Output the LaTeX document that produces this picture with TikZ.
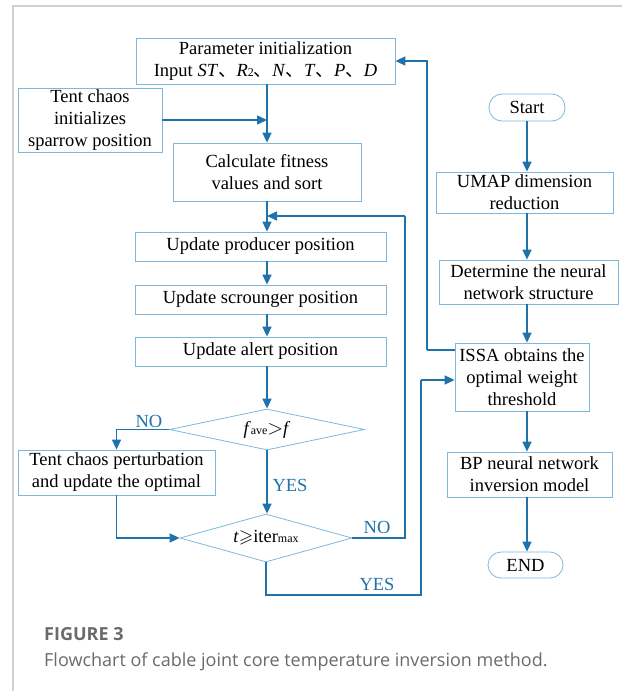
\documentclass[tikz,border=0pt]{standalone}
\usepackage{amssymb}
\usepackage{fontspec}
\setmainfont{Liberation Serif}
\newfontfamily\cjk{Noto Sans CJK SC}
\newfontfamily\capfont{Open Sans}
\usetikzlibrary{arrows.meta,shapes.geometric}
\definecolor{boxc}{HTML}{7DB8DC}
\definecolor{arrc}{HTML}{1F72AC}
\definecolor{frm}{HTML}{D0D0D0}
\definecolor{capc}{HTML}{6A6A6A}
\newcommand{\dn}{{\cjk 、}}
\newcommand{\sm}[1]{{\fontsize{12}{12}\selectfont #1}}
\begin{document}
\begin{tikzpicture}[x=1pt,y=-1pt,
  every node/.style={font=\fontsize{18.5}{22}\selectfont},
  box/.style={draw=boxc,line width=0.8pt,align=center,inner sep=0pt},
  term/.style={box,rounded corners=13pt},
  dia/.style={draw=boxc,line width=0.8pt,diamond,aspect=4.5,inner sep=0pt},
  arr/.style={draw=arrc,line width=1.6pt,-{Triangle[length=10pt,width=9pt]}},
  ln/.style={draw=arrc,line width=1.6pt},
  lab/.style={text=arrc,inner sep=0pt}]
\useasboundingbox (0,0) rectangle (622,691);
\draw[frm,line width=1.2pt] (13,691) -- (13,6) -- (622,6);
% left column
\node[box,minimum width=259pt,minimum height=46pt] (param) at (265.5,61)
  {Parameter initialization\\Input \textit{ST}\dn\textit{R}\sm{2}\dn\textit{N}\dn\textit{T}\dn\textit{P}\dn\textit{D}};
\node[box,minimum width=144pt,minimum height=64pt] (tent) at (90,120)
  {Tent chaos\\initializes\\sparrow position};
\node[box,minimum width=188pt,minimum height=58pt] (calc) at (267,172)
  {Calculate fitness\\values and sort};
\node[box,minimum width=251pt,minimum height=29pt] (prod) at (260.5,246.5) {Update producer position};
\node[box,minimum width=251pt,minimum height=29pt] (scr) at (260.5,299.5) {Update scrounger position};
\node[box,minimum width=251pt,minimum height=29pt] (alert) at (260.5,351.5) {Update alert position};
\node[dia,minimum width=195pt,minimum height=41pt] (d1) at (267,429.5)
  {\textit{f}\sm{ave}{\fontsize{22}{22}\selectfont$>$}\textit{f}};
\node[box,minimum width=197pt,minimum height=45pt] (pert) at (116.5,472.5)
  {Tent chaos perturbation\\and update the optimal};
\node[dia,minimum width=172pt,minimum height=48pt] (d2) at (266,538)
  {\textit{t}$\geqslant$iter\sm{max}};
% right column
\node[term,minimum width=76pt,minimum height=27pt] (start) at (527,107.5) {Start};
\node[box,minimum width=177pt,minimum height=41pt] (umap) at (524.5,192.5) {UMAP dimension\\reduction};
\node[box,minimum width=179pt,minimum height=44pt] (det) at (528.5,282) {Determine the neural\\network structure};
\node[box,minimum width=134pt,minimum height=68pt] (issa) at (522,377) {ISSA obtains the\\optimal weight\\threshold};
\node[box,minimum width=165pt,minimum height=45pt] (bp) at (529.5,474.5) {BP neural network\\inversion model};
\node[term,minimum width=75pt,minimum height=26pt] (end) at (525.5,565) {END};
% connectors left
\draw[arr] (calc.north |- param.south) -- (calc.north);
\draw[arr] (tent.east) -- (tent.east -| calc.north);
\draw[arr] (calc.south) -- (calc.south |- prod.north);
\draw[arr] (calc.south |- prod.south) -- (calc.south |- scr.north);
\draw[arr] (calc.south |- scr.south) -- (calc.south |- alert.north);
\draw[arr] (calc.south |- alert.south) -- (calc.south |- d1.north);
\draw[arr] (d1.west) -| (pert.north);
\draw[arr] (calc.south |- d1.south) -- (calc.south |- d2.north);
\draw[arr] (pert.south) |- (d2.west);
\coordinate (fb) at (405,216);
\draw[ln] (d2.east) -| (fb);
\draw[arr] (fb) -- (fb -| calc.south);
\coordinate (yb) at (421,595);
\coordinate (yt) at (421,380);
\draw[ln] (d2.south) |- (yb) -- (yt);
\draw[arr] (yt) -- (yt -| issa.west);
\coordinate (ib) at (427,350);
\draw[ln] (ib -| issa.west) -- (ib);
\draw[arr] (ib) |- (param.east);
% connectors right
\draw[arr] (start.south) -- (start.south |- umap.north);
\draw[arr] (start.south |- umap.south) -- (start.south |- det.north);
\draw[arr] (start.south |- det.south) -- (start.south |- issa.north);
\draw[arr] (start.south |- issa.south) -- (start.south |- bp.north);
\draw[arr] (start.south |- bp.south) -- (start.south |- end.north);
% labels
\node[lab] (no1) at (149,421) {NO};
\node[lab] (yes1) at (290,485) {YES};
\node[lab] (no2) at (377,527) {NO};
\node[lab] (yes2) at (377,584) {YES};
% caption
\node[anchor=base west,inner sep=0pt,text=capc,font=\capfont\bfseries\fontsize{18}{18}\selectfont] (cap1) at (44,640) {FIGURE 3};
\node[anchor=base west,inner sep=0pt,text=capc,font=\capfont\fontsize{18}{18}\selectfont] (cap2) at (44,666) {Flowchart of cable joint core temperature inversion method.};
\end{tikzpicture}
\end{document}
